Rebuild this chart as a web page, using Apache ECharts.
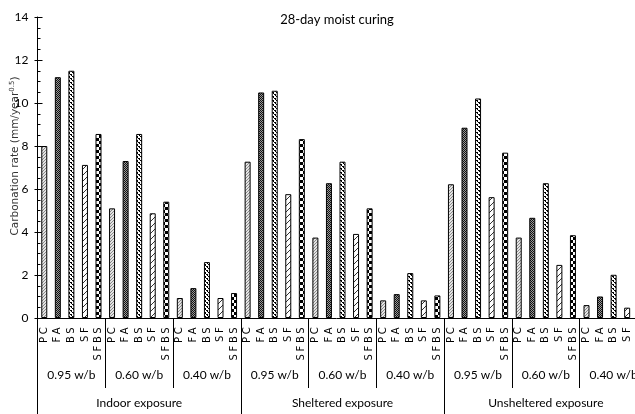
<!DOCTYPE html>
<html>
<head>
<meta charset="utf-8">
<script src="https://cdn.jsdelivr.net/npm/echarts@6/dist/echarts.min.js"></script>
<style>
html,body{margin:0;padding:0;background:#fff;}
#chart{width:635px;height:414px;}
</style>
</head>
<body>
<div id="chart"></div>
<script>
const binders = ['PC', 'FA', 'BS', 'SF', 'SFBS'];
const wbLabels = ['0.95 w/b', '0.60 w/b', '0.40 w/b'];
const exposures = ['Indoor exposure', 'Sheltered exposure', 'Unsheltered exposure'];
const yTicks = [0, 2, 4, 6, 8, 10, 12, 14];
// values per exposure, ordered 0.95 / 0.60 / 0.40 w/b, binders PC FA BS SF SFBS
const indoor = [8.0, 11.2, 11.5, 7.12, 8.56, 5.1, 7.3, 8.56, 4.87, 5.41, 0.93, 1.39, 2.6, 0.93, 1.16];
const sheltered = [7.27, 10.49, 10.57, 5.76, 8.32, 3.74, 6.27, 7.27, 3.91, 5.1, 0.82, 1.11, 2.09, 0.82, 1.05];
const unsheltered = [6.22, 8.85, 10.21, 5.62, 7.69, 3.74, 4.66, 6.27, 2.47, 3.85, 0.6, 1.0, 2.01, 0.48, 1.1];

function makePattern(w, h, draw) {
  const c = document.createElement('canvas');
  c.width = w; c.height = h;
  const ctx = c.getContext('2d');
  draw(ctx);
  return { image: c, repeat: 'repeat' };
}
const patterns = [
  makePattern(3, 3, ctx => { ctx.fillStyle = '#e4e4e4'; ctx.fillRect(0,0,3,3); ctx.fillStyle = '#8a8a8a'; ctx.fillRect(0,0,1,1); ctx.fillRect(1,2,1,1); ctx.fillRect(2,1,1,1); }),
  makePattern(2, 2, ctx => { ctx.fillStyle = '#9a9a9a'; ctx.fillRect(0,0,2,2); ctx.fillStyle = '#111'; ctx.fillRect(0,0,1,1); ctx.fillRect(1,1,1,1); }),
  makePattern(4, 4, ctx => { ctx.fillStyle = '#fff'; ctx.fillRect(0,0,4,4); ctx.fillStyle = '#000'; ctx.fillRect(0,0,2,1); ctx.fillRect(1,1,1,1); ctx.fillRect(2,2,2,1); ctx.fillRect(3,3,1,1); }),
  makePattern(6, 6, ctx => { ctx.fillStyle = '#fff'; ctx.fillRect(0,0,6,6); ctx.strokeStyle = '#333'; ctx.lineWidth = 1; ctx.beginPath(); ctx.moveTo(0,6); ctx.lineTo(6,0); ctx.stroke(); }),
  makePattern(6, 6, ctx => { ctx.fillStyle = '#fff'; ctx.fillRect(0,0,6,6); ctx.fillStyle = '#000'; ctx.fillRect(0,0,3,3); ctx.fillRect(3,3,3,3); })
];

const categories = [];
const wbCats = [];
const data = [];
[indoor, sheltered, unsheltered].forEach((arr, e) => {
  wbLabels.forEach((wb, w) => {
    wbCats.push(wb);
    binders.forEach((b, i) => {
      categories.push(b);
      data.push({ value: arr[w * 5 + i], itemStyle: { color: patterns[i], borderColor: '#000', borderWidth: 1 } });
    });
  });
});

const narrow = '"Liberation Sans Narrow", Lato';
const chart = echarts.init(document.getElementById('chart'), null, { renderer: 'canvas' });
chart.setOption({
  animation: false,
  backgroundColor: '#fff',
  title: {
    text: '28-day moist curing', left: 332, top: 8, textAlign: 'center',
    textStyle: { fontFamily: 'Lato', fontSize: 13, fontWeight: 'normal', color: '#000' }
  },
  graphic: [{
    type: 'text', x: 15.5, y: 156, rotation: Math.PI / 2, silent: true,
    style: {
      text: '{a|Carbonation rate (mm/year}{s|0.5}{a|)}',
      align: 'center', verticalAlign: 'middle',
      rich: {
        a: { fontFamily: 'DejaVu Sans', fontSize: 10.5, fill: '#333' },
        s: { fontFamily: 'DejaVu Sans', fontSize: 7, fill: '#333', verticalAlign: 'top', padding: [0, 0, 6, 0] }
      }
    }
  }],
  grid: { left: 37.5, top: 17, width: 610, height: 301, containLabel: false, outerBoundsMode: 'none' },
  xAxis: [
    {
      type: 'category', data: categories, position: 'bottom',
      axisLine: { show: true, lineStyle: { color: '#000', width: 1 } },
      axisTick: { show: false },
      axisLabel: {
        interval: 0, rotate: 90, margin: 8,
        formatter: v => v.split('').map(ch => '{l|' + ch + '}').join(''),
        rich: { l: { fontFamily: 'DejaVu Sans', fontSize: 10, color: '#000', padding: [0, 1.3, 0, 1.3] } }
      },
      splitLine: { show: false }
    },
    {
      type: 'category', data: wbCats, position: 'bottom',
      axisLine: { show: false },
      axisTick: { show: true, interval: 0, length: 70, lineStyle: { color: '#000', width: 1 } },
      axisLabel: { interval: 0, margin: 51, fontFamily: narrow, fontSize: 12, color: '#000' },
      splitLine: { show: false }
    },
    {
      type: 'category', data: exposures, position: 'bottom',
      axisLine: { show: false },
      axisTick: { show: true, interval: 0, length: 100, lineStyle: { color: '#000', width: 1 } },
      axisLabel: { interval: 0, margin: 79, fontFamily: narrow, fontSize: 12, color: '#000' },
      splitLine: { show: false }
    }
  ],
  yAxis: [
    {
      type: 'value', min: yTicks[0], max: yTicks[yTicks.length - 1], interval: 2,
      axisLine: { show: true, lineStyle: { color: '#000', width: 1 } },
      axisTick: { show: true, length: 3, lineStyle: { color: '#000' } },
      minorTick: { show: false },
      axisLabel: { fontFamily: narrow, fontSize: 12, color: '#000', margin: 9 },
      splitLine: { show: false }
    },
    {
      type: 'value', min: yTicks[0], max: yTicks[yTicks.length - 1], interval: 2, position: 'left',
      axisLine: { show: false },
      axisTick: { show: true, inside: true, length: 5, lineStyle: { color: '#000' } },
      minorTick: { show: true, splitNumber: 4, length: 3, lineStyle: { color: '#000' } },
      axisLabel: { show: false },
      splitLine: { show: false }
    }
  ],
  series: [{
    type: 'bar', xAxisIndex: 0, yAxisIndex: 0, data: data, barWidth: 6,
    emphasis: { disabled: true }
  }]
});
</script>
</body>
</html>
